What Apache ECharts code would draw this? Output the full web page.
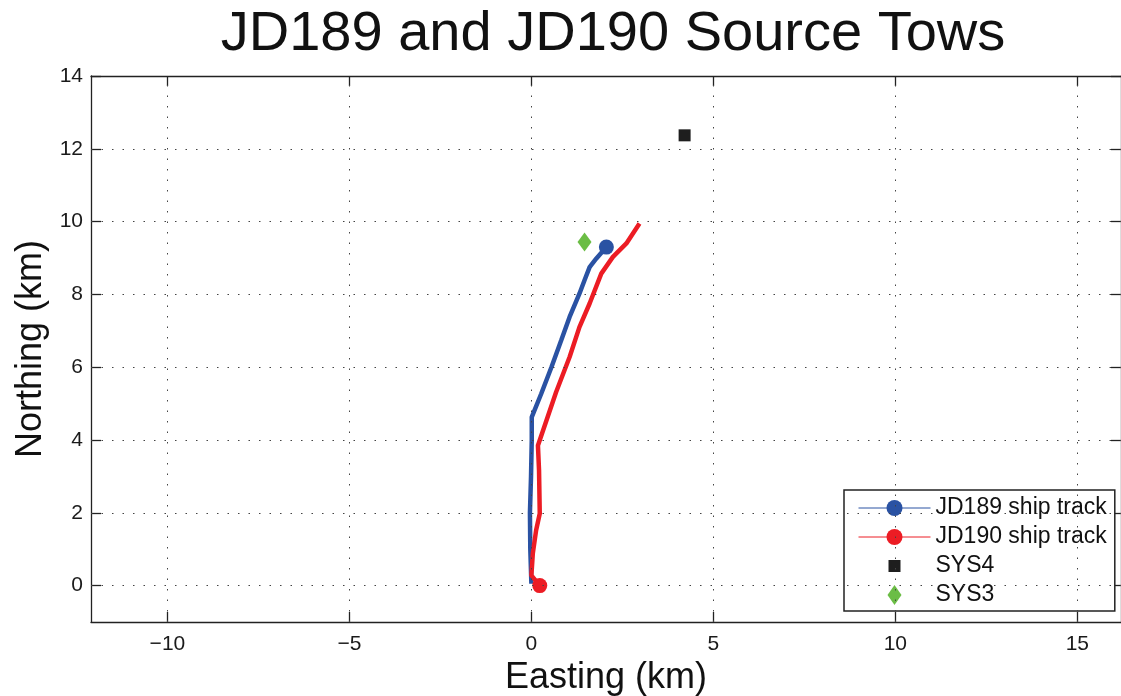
<!DOCTYPE html>
<html>
<head>
<meta charset="utf-8">
<script src="https://cdn.jsdelivr.net/npm/echarts@6/dist/echarts.min.js"></script>
<style>
html,body{margin:0;padding:0;background:#fff;}
#chart{width:1121px;height:696px;}
</style>
</head>
<body>
<div id="chart"></div>
<script>
// ---- data (km) ----
const jd189Track = [
  [0.00,0.05],[-0.03,1.00],[-0.04,2.00],[-0.01,3.00],[0.01,4.00],[0.01,4.63],
  [0.27,5.27],[0.55,6.00],[0.82,6.74],[1.05,7.38],[1.32,8.02],[1.46,8.39],
  [1.60,8.75],[1.78,8.98],[2.06,9.30]
];
const jd190Track = [
  [0.23,0.00],[0.00,0.28],[0.04,0.89],[0.13,1.52],[0.23,1.98],[0.21,3.17],
  [0.18,3.85],[0.68,5.32],[1.05,6.28],[1.32,7.10],[1.60,7.75],[1.92,8.57],
  [2.24,9.03],[2.61,9.40],[2.97,9.95]
];
const jd189MarkerIndex = jd189Track.length - 1; // marker at end of track
const jd190MarkerIndex = 0;                      // marker at start of track
const sys4 = [[4.21,12.37]];
const sys3 = [[1.46,9.44]];
const xTicks = [-10,-5,0,5,10,15];
const yTicks = [0,2,4,6,8,10,12,14];
const xRange = [-12.1, 16.2];
const yRange = [-1, 14];
const seriesNames = ['JD189 ship track','JD190 ship track','SYS4','SYS3'];

// ---- chart ----
const FONT = 'Liberation Sans, Arial, Helvetica, sans-serif';
const AXIS_COLOR = '#222';
const fmt = v => String(v).replace('-', '\u2212');

function trackData(arr, markerIdx) {
  return arr.map((p, i) => i === markerIdx ? {value: p} : {value: p, symbol: 'none'});
}

const gridMark = [];
xTicks.forEach(v => gridMark.push({xAxis: v}));
yTicks.filter(v => v < yRange[1]).forEach(v => gridMark.push({yAxis: v}));

const chart = echarts.init(document.getElementById('chart'), null, {renderer: 'canvas'});
chart.setOption({
  animation: false,
  backgroundColor: '#fff',
  textStyle: {fontFamily: FONT},
  title: {
    text: 'JD189 and JD190 Source Tows',
    left: 608, top: 2, textAlign: 'center',
    textStyle: {fontFamily: FONT, fontSize: 56, fontWeight: 'normal', color: '#111'}
  },
  grid: {left: 91, right: 0, top: 76, bottom: 74, containLabel: false, outerBoundsMode: 'none'},
  xAxis: [{
    type: 'value', position: 'bottom', min: xRange[0], max: xRange[1],
    name: 'Easting (km)', nameLocation: 'middle', nameGap: 35,
    nameTextStyle: {fontFamily: FONT, fontSize: 36, color: '#111'},
    axisLine: {show: true, onZero: false, lineStyle: {color: AXIS_COLOR, width: 1.3}},
    axisTick: {show: true, inside: true, length: 10, customValues: xTicks, lineStyle: {color: AXIS_COLOR, width: 1.3}},
    axisLabel: {show: true, customValues: xTicks, formatter: fmt, margin: 12, fontFamily: FONT, fontSize: 21, color: '#1a1a1a'},
    splitLine: {show: false}
  }, {
    type: 'value', position: 'top', min: xRange[0], max: xRange[1],
    axisLine: {show: true, onZero: false, lineStyle: {color: AXIS_COLOR, width: 1.3}},
    axisTick: {show: true, inside: true, length: 10, customValues: xTicks, lineStyle: {color: AXIS_COLOR, width: 1.3}},
    axisLabel: {show: false},
    splitLine: {show: false}
  }],
  yAxis: [{
    type: 'value', position: 'left', min: yRange[0], max: yRange[1],
    name: 'Northing (km)', nameLocation: 'middle', nameGap: 42,
    nameTextStyle: {fontFamily: FONT, fontSize: 36, color: '#111'},
    axisLine: {show: true, onZero: false, lineStyle: {color: AXIS_COLOR, width: 1.3}},
    axisTick: {show: true, inside: true, length: 10, customValues: yTicks, lineStyle: {color: AXIS_COLOR, width: 1.3}},
    axisLabel: {show: true, customValues: yTicks, formatter: fmt, margin: 8, fontFamily: FONT, fontSize: 21, color: '#1a1a1a'},
    splitLine: {show: false}
  }, {
    type: 'value', position: 'right', min: yRange[0], max: yRange[1],
    axisLine: {show: true, onZero: false, lineStyle: {color: AXIS_COLOR, width: 1.3}},
    axisTick: {show: true, inside: true, length: 10, customValues: yTicks, lineStyle: {color: AXIS_COLOR, width: 1.3}},
    axisLabel: {show: false},
    splitLine: {show: false}
  }],
  legend: {
    orient: 'vertical', left: 844, top: 490,
    padding: [6, 8, 4, 14],
    itemWidth: 72, itemHeight: 20, itemGap: 5,
    backgroundColor: '#fff', borderColor: '#222', borderWidth: 1.5, borderRadius: 0,
    lineStyle: {width: 1},
    textStyle: {fontFamily: FONT, fontSize: 23, color: '#111', lineHeight: 24},
    data: [
      {name: seriesNames[0]},
      {name: seriesNames[1]},
      {name: seriesNames[2], icon: 'path://M0,0M20,20M4,4L16,4L16,16L4,16Z'},
      {name: seriesNames[3], icon: 'path://M7,0L14,10L7,20L0,10Z'}
    ]
  },
  series: [
    {
      name: 'grid', type: 'line', data: [], z: 1, silent: true,
      markLine: {
        silent: true, symbol: ['none', 'none'], label: {show: false},
        lineStyle: {color: '#444', width: 1, type: [1.5, 9]},
        emphasis: {disabled: true},
        data: gridMark
      }
    },
    {
      name: seriesNames[0], type: 'line', z: 3,
      data: trackData(jd189Track, jd189MarkerIndex),
      symbol: 'circle', symbolSize: 15, showSymbol: true,
      lineStyle: {color: '#2a52a3', width: 4.5},
      itemStyle: {color: '#2a52a3'}
    },
    {
      name: seriesNames[1], type: 'line', z: 3,
      data: trackData(jd190Track, jd190MarkerIndex),
      symbol: 'circle', symbolSize: 15, showSymbol: true,
      lineStyle: {color: '#ec1c24', width: 4.5},
      itemStyle: {color: '#ec1c24'}
    },
    {
      name: seriesNames[2], type: 'scatter', z: 4,
      data: sys4, symbol: 'rect', symbolSize: 12,
      itemStyle: {color: '#1e1e1e', opacity: 1}
    },
    {
      name: seriesNames[3], type: 'scatter', z: 4,
      data: sys3, symbol: 'diamond', symbolSize: [14, 19],
      itemStyle: {color: '#6bbd45', opacity: 1}
    }
  ]
});
</script>
</body>
</html>
